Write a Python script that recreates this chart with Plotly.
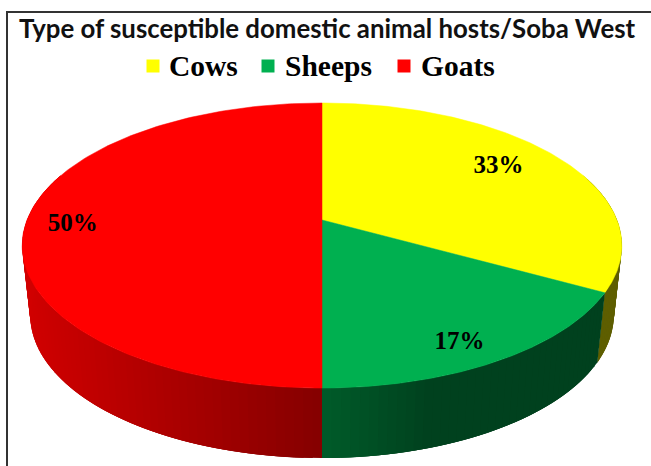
import numpy as np
import plotly.graph_objects as go

categories = ["Cows", "Sheeps", "Goats"]
shares = [33, 17, 50]
labels = ["33%", "17%", "50%"]
colors = ["#FFFF00", "#00B050", "#FF0000"]
label_radius = [0.765, 0.868, 0.84]
label_shift_deg = [-2.2, 3.0, -2.4]
legend_swatch_x = [153, 268, 404]
legend_text_x = [167, 283, 419]

# Projection of the tilted disc onto the canvas
CX, APEX_Y = 322.0, 220.0
HALF_W = 295.0
PERSP_A, PERSP_C = -98.6, 0.179
TOP_CY, TOP_RY, TOP_RX = 245.5, 142.5, 300.0
BASE_CY, BASE_RY, BASE_RX = 315.0, 143.0, 292.0


def project(theta, r=1.0):
    """Clockwise angle from twelve o'clock (radians) to canvas position."""
    u, v = r * np.sin(theta), r * np.cos(theta)
    d = PERSP_C * v + 1
    return CX + HALF_W * u / d, (PERSP_A * v + APEX_Y) / d


def lower(x, y):
    """Drop a rim point to the bottom edge of the disc."""
    return (
        CX + (x - CX) * BASE_RX / TOP_RX,
        BASE_CY + (y - TOP_CY) * BASE_RY / TOP_RY,
    )


def shade(hex_color, factor):
    rgb = [int(hex_color[i:i + 2], 16) for i in (1, 3, 5)]
    return "rgb({},{},{})".format(*[int(round(c * factor)) for c in rgb])


def wall_brightness(x):
    return float(np.interp(x, [22, 322, 430, 622], [0.82, 0.52, 0.37, 0.37]))


edges = np.radians(np.cumsum([0] + shares) * 3.6)
fig = go.Figure()

# Side wall: overlapping strips painted in order, so no seams show between them
for start, end, color in zip(edges[:-1], edges[1:], colors):
    a0, a1 = max(start, np.radians(70)), min(end, np.radians(290))
    if a1 <= a0:
        continue
    steps = max(2, int(np.degrees(a1 - a0) / 1.5))
    ticks = np.linspace(a0, a1, steps + 1)
    for i in range(steps):
        arc = ticks[i:i + 4]
        xs, ys = project(arc)
        bx, by = lower(xs, ys)
        px = np.r_[xs, bx[::-1], xs[0]]
        py = np.r_[ys, by[::-1], ys[0]]
        mid_x = (xs[0] + project(ticks[i + 1])[0]) / 2
        fig.add_trace(go.Scatter(
            x=px, y=py, mode="lines", fill="toself",
            fillcolor=shade(color, wall_brightness(mid_x)),
            line=dict(width=0), hoverinfo="skip", showlegend=False,
        ))

# Top face of each slice
for start, end, color, name in zip(edges[:-1], edges[1:], colors, categories):
    ticks = np.linspace(start, end, 160)
    xs, ys = project(ticks)
    fig.add_trace(go.Scatter(
        x=np.r_[CX, xs, CX], y=np.r_[APEX_Y, ys, APEX_Y],
        mode="lines", fill="toself", fillcolor=color,
        line=dict(color=color, width=0.5),
        name=name, hoverinfo="name", showlegend=False,
    ))

# Legend row
LEGEND_Y = 66
fig.add_trace(go.Scatter(
    x=legend_swatch_x, y=[LEGEND_Y] * 3, mode="markers", hoverinfo="skip", showlegend=False,
    marker=dict(symbol="square", size=13, color=colors, line=dict(width=0)),
))
legend_notes = [
    dict(x=tx, y=LEGEND_Y, text=name, xref="x", yref="y", xanchor="left", yanchor="middle",
         showarrow=False, font=dict(family="Liberation Serif", size=29.5, color="black", weight=700))
    for tx, name in zip(legend_text_x, categories)
]

# Percentage labels
mids = (edges[:-1] + edges[1:]) / 2 + np.radians(label_shift_deg)
lx, ly = project(mids, np.array(label_radius))
fig.add_trace(go.Scatter(
    x=lx, y=ly, text=labels, mode="text", showlegend=False, hoverinfo="skip",
    textfont=dict(family="Liberation Serif", size=25, color="black", weight=700),
))

fig.update_layout(
    width=651, height=466,
    margin=dict(l=0, r=0, t=0, b=0),
    paper_bgcolor="white", plot_bgcolor="white",
    xaxis=dict(range=[0, 651], visible=False, fixedrange=True),
    yaxis=dict(range=[466, 0], visible=False, fixedrange=True),
    showlegend=False,
    annotations=legend_notes,
    title=dict(
        text="Type of susceptible domestic animal hosts/Soba West",
        x=327 / 651, xanchor="center", y=1 - 29 / 466, yanchor="middle",
        font=dict(family="Lato", size=25.8, color="#111111", weight=700),
    ),
    shapes=[
        dict(type="line", xref="paper", yref="paper", x0=7 / 651, x1=7 / 651,
             y0=0, y1=1 - 12 / 466, line=dict(color="#333333", width=2)),
        dict(type="line", xref="paper", yref="paper", x0=6 / 651, x1=1,
             y0=1 - 12 / 466, y1=1 - 12 / 466, line=dict(color="#333333", width=2)),
    ],
)

fig.write_html("out.html", config={"displayModeBar": False})
